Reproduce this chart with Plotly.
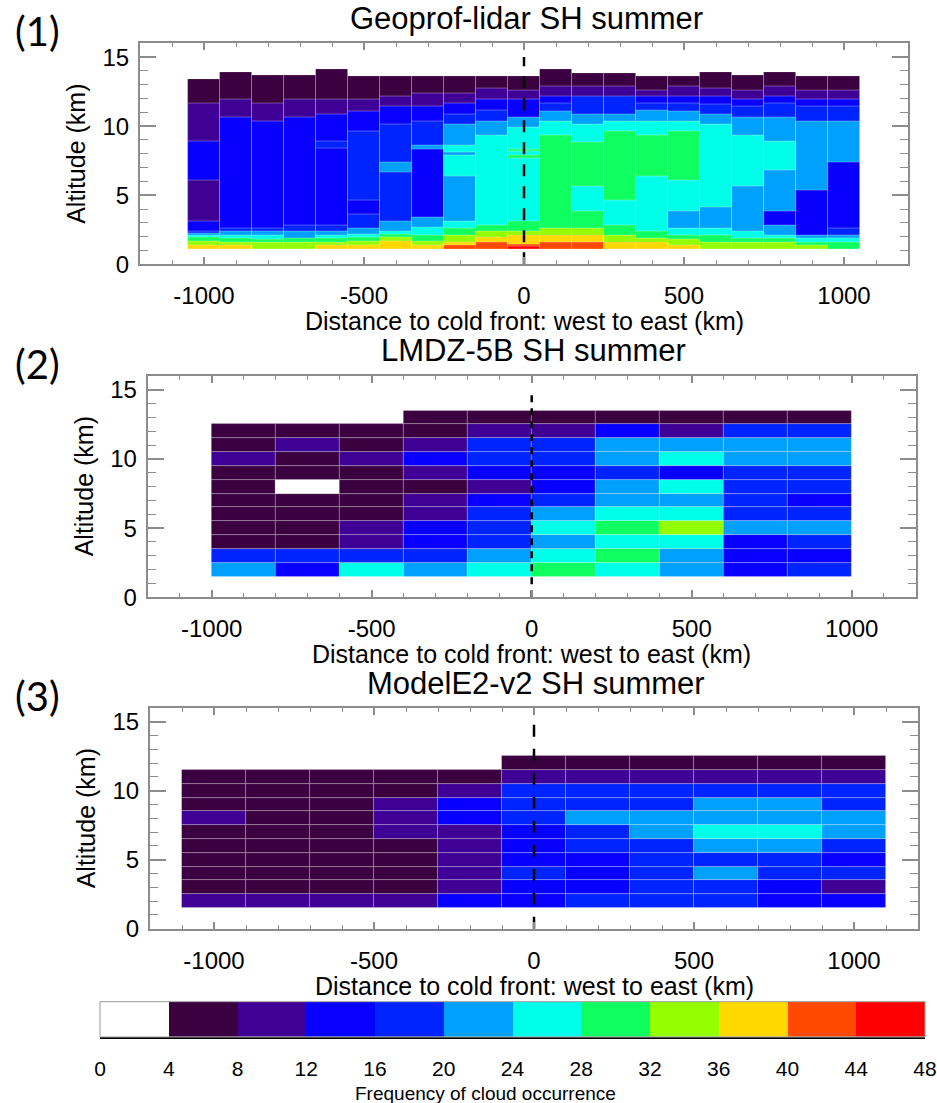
import plotly.graph_objects as go

W, H = 937, 1103

# ---------------- colour classes (frequency of cloud occurrence, %) ----------------
FREQ_EDGES = list(range(0, 49, 4))
BIN_COLORS = ["#ffffff", "#3b0040", "#3f0096", "#0800ff", "#0024ff", "#00a0ff",
              "#00ffe8", "#10ff60", "#94ff00", "#ffd800", "#ff4800", "#ff0000"]
CBAR_MID = [2, 6, 10, 14, 18, 22, 26, 30, 34, 38, 42, 46]

# ---------------- panel 1: Geoprof-lidar (100 km columns, variable layers) ----------
P1_X = list(range(-1000, 1001, 100))
P1_BOTTOM = 1.12
P1_TOPS = [
    [1.40, 1.69, 1.93, 2.12, 2.24, 2.41, 3.09, 6.11, 8.89, 11.66, 13.43],
    [1.35, 1.59, 1.88, 2.12, 2.41, 2.61, 10.63, 11.91, 13.91],
    [1.59, 1.83, 2.12, 2.41, 2.61, 10.38, 11.66, 13.67],
    [1.59, 1.88, 2.41, 2.85, 10.63, 11.91, 13.67],
    [1.35, 1.59, 1.88, 2.12, 2.41, 2.85, 8.40, 8.93, 10.87, 11.91, 14.15],
    [1.40, 1.64, 1.93, 2.17, 2.61, 3.62, 4.61, 9.61, 11.11, 11.91, 13.60],
    [1.64, 1.93, 2.17, 2.41, 3.14, 6.64, 7.39, 10.14, 11.42, 12.15, 13.60],
    [1.35, 1.64, 2.07, 2.65, 3.38, 8.35, 8.64, 10.38, 11.42, 12.39, 13.60],
    [1.35, 1.59, 2.12, 2.61, 3.14, 6.35, 7.92, 8.11, 8.64, 10.14, 10.87, 11.66, 12.39, 13.60],
    [1.59, 1.93, 2.41, 2.85, 9.37, 10.38, 11.18, 11.91, 12.75, 13.60],
    [1.28, 1.45, 2.12, 2.41, 3.09, 7.68, 7.92, 8.16, 8.35, 9.90, 10.63, 11.91, 12.63, 13.60],
    [1.59, 2.12, 2.61, 9.37, 10.38, 11.11, 11.66, 12.15, 12.87, 14.15],
    [1.59, 2.12, 2.61, 3.81, 5.63, 8.84, 10.14, 10.87, 12.15, 12.87, 13.84],
    [1.59, 2.12, 2.85, 4.66, 9.61, 10.38, 10.87, 12.15, 12.87, 13.84],
    [1.59, 1.88, 2.36, 6.35, 9.37, 10.38, 11.18, 11.66, 12.15, 12.63, 13.60],
    [1.40, 1.83, 2.12, 2.61, 3.81, 6.11, 9.61, 10.38, 11.11, 11.66, 12.15, 12.87, 13.60],
    [1.59, 2.12, 2.61, 4.10, 10.14, 10.87, 11.59, 12.15, 12.75, 13.91],
    [1.59, 1.88, 2.36, 5.63, 9.37, 10.63, 11.42, 11.91, 12.63, 13.67],
    [1.59, 1.88, 2.12, 2.85, 3.86, 6.83, 8.89, 10.63, 11.66, 12.15, 12.87, 13.91],
    [1.35, 1.59, 1.88, 2.12, 5.38, 10.38, 11.42, 11.91, 12.63, 13.60],
    [1.59, 1.88, 2.12, 2.61, 7.39, 10.38, 11.42, 11.91, 12.63, 13.60],
]
P1_FREQ = [
    [38, 34, 30, 26, 22, 18, 14, 10, 14, 10, 6],
    [38, 34, 30, 26, 22, 18, 14, 10, 6],
    [34, 30, 26, 22, 18, 14, 10, 6],
    [34, 30, 22, 18, 14, 10, 6],
    [38, 34, 30, 26, 22, 18, 14, 18, 14, 10, 6],
    [38, 34, 30, 26, 22, 18, 14, 18, 14, 10, 6],
    [38, 34, 30, 26, 22, 18, 22, 18, 14, 10, 6],
    [38, 34, 30, 26, 22, 14, 22, 18, 14, 10, 6],
    [42, 38, 34, 30, 26, 22, 26, 22, 26, 22, 18, 14, 10, 6],
    [42, 38, 34, 30, 26, 22, 18, 14, 10, 6],
    [46, 42, 38, 34, 30, 26, 30, 26, 30, 26, 22, 14, 10, 6],
    [42, 38, 34, 30, 26, 22, 18, 14, 10, 6],
    [42, 38, 34, 30, 26, 30, 26, 22, 18, 10, 6],
    [38, 34, 30, 26, 30, 26, 22, 18, 10, 6],
    [38, 34, 30, 26, 30, 26, 22, 18, 14, 10, 6],
    [38, 34, 30, 26, 22, 26, 30, 26, 22, 18, 14, 10, 6],
    [34, 30, 26, 22, 26, 22, 18, 14, 10, 6],
    [34, 30, 26, 22, 26, 22, 18, 14, 10, 6],
    [34, 30, 26, 22, 14, 22, 26, 22, 18, 14, 10, 6],
    [34, 30, 26, 22, 14, 22, 18, 14, 10, 6],
    [30, 26, 22, 18, 14, 22, 18, 14, 10, 6],
]

# ---------------- panel 2: LMDZ-5B (200 km columns, 1 km levels) ------------------
P2_X = list(range(-900, 901, 200))
P2_ALT = list(range(2, 14))
P2_FREQ = [  # one row per altitude level (2 km ... 13 km), columns west -> east
    [22, 14, 26, 22, 26, 30, 26, 22, 14, 18],
    [18, 18, 18, 18, 22, 26, 30, 22, 14, 14],
    [6, 6, 10, 14, 18, 22, 26, 26, 14, 18],
    [6, 6, 10, 14, 18, 26, 30, 34, 22, 22],
    [6, 6, 6, 10, 18, 22, 26, 26, 18, 18],
    [6, 6, 6, 10, 14, 18, 22, 22, 18, 14],
    [6, 2, 6, 6, 10, 14, 22, 26, 18, 18],
    [6, 6, 6, 10, 14, 14, 18, 14, 18, 18],
    [10, 6, 10, 14, 18, 18, 22, 26, 22, 22],
    [6, 10, 6, 10, 18, 18, 22, 22, 22, 22],
    [6, 6, 6, 6, 10, 10, 14, 10, 18, 18],
    [None, None, None, 6, 6, 6, 6, 6, 6, 6],
]

# ---------------- panel 3: ModelE2-v2 (200 km columns, 1 km levels) ---------------
P3_X = list(range(-1000, 1001, 200))
P3_ALT = list(range(2, 13))
P3_FREQ = [  # one row per altitude level (2 km ... 12 km)
    [10, 10, 10, 10, 14, 14, 18, 18, 18, 14, 14],
    [6, 6, 6, 6, 10, 14, 14, 18, 18, 14, 10],
    [6, 6, 6, 6, 10, 18, 14, 18, 22, 18, 18],
    [6, 6, 6, 6, 10, 14, 14, 18, 18, 18, 14],
    [6, 6, 6, 6, 10, 14, 18, 18, 22, 22, 18],
    [6, 6, 6, 10, 10, 14, 18, 22, 26, 26, 22],
    [10, 6, 6, 10, 14, 18, 22, 22, 22, 22, 22],
    [6, 6, 6, 10, 14, 18, 18, 18, 22, 22, 18],
    [6, 6, 6, 6, 10, 18, 18, 18, 18, 18, 18],
    [6, 6, 6, 6, 6, 10, 10, 10, 10, 10, 10],
    [None, None, None, None, None, 6, 6, 6, 6, 6, 6],
]

X_TICKS = [-1000, -500, 0, 500, 1000]
X_TICKTEXT = ["-1000", "-500", "0", "500", "1000"]
Y_TICKS = [0, 5, 10, 15]
TITLES = ["Geoprof-lidar SH summer", "LMDZ-5B SH summer", "ModelE2-v2 SH summer"]
PANEL_TAGS = ["(1)", "(2)", "(3)"]
XTITLE = "Distance to cold front: west to east (km)"
YTITLE = "Altitude (km)"
CBAR_TITLE = "Frequency of cloud occurrence"
FRONT_X = 0

# ---------------- helpers ----------------
CS = []
for i, c in enumerate(BIN_COLORS):
    CS.append([i / 12, c])
    CS.append([(i + 1) / 12, c])

FONT = "Liberation Sans, Arial, Helvetica, sans-serif"
EDGE = dict(color="rgba(255,255,255,0.28)", width=0.8)
DASHES = ["12px,10px", "7px,6px", "12px,12px"]


def marker(vals):
    return dict(color=vals, colorscale=CS, cmin=0, cmax=48, showscale=False, line=EDGE)


fig = go.Figure()

# panel 1
xs, bases, hs, vals = [], [], [], []
for x, tops, fr in zip(P1_X, P1_TOPS, P1_FREQ):
    b = P1_BOTTOM
    for t, f in zip(tops, fr):
        xs.append(x); bases.append(b); hs.append(t - b); vals.append(f)
        b = t
fig.add_trace(go.Bar(x=xs, y=hs, base=bases, width=100, marker=marker(vals),
                     xaxis="x", yaxis="y", hoverinfo="skip"))


def grid_bars(xcols, alts, grid, ax, ay):
    xs, bases, hs, vals = [], [], [], []
    for a, row in zip(alts, grid):
        for x, f in zip(xcols, row):
            if f is None:
                continue
            xs.append(x); bases.append(a - 0.5); hs.append(1.0); vals.append(f)
    fig.add_trace(go.Bar(x=xs, y=hs, base=bases, width=200, marker=marker(vals),
                         xaxis=ax, yaxis=ay, hoverinfo="skip"))


grid_bars(P2_X, P2_ALT, P2_FREQ, "x2", "y2")
grid_bars(P3_X, P3_ALT, P3_FREQ, "x3", "y3")

# cold-front dashed lines
for (ax, ay), dash in zip([("x", "y"), ("x2", "y2"), ("x3", "y3")], DASHES):
    fig.add_trace(go.Scatter(x=[FRONT_X, FRONT_X], y=[0, 15], mode="lines",
                             line=dict(color="black", width=2.5, dash=dash),
                             xaxis=ax, yaxis=ay, hoverinfo="skip"))

# colour bar as a heatmap on its own axis
fig.add_trace(go.Heatmap(x=FREQ_EDGES, y=[0, 1], z=[CBAR_MID], colorscale=CS,
                         zmin=0, zmax=48, showscale=False, xaxis="x4", yaxis="y4",
                         hoverinfo="skip"))

# ---------------- layout ----------------
PANELS = [  # pixel boxes: left, right, top, bottom
    (140.0, 908.0, 43.3, 264.3),
    (147.7, 915.7, 376.0, 597.3),
    (150.0, 918.0, 708.0, 928.7),
]
CBAR_BOX = (100.0, 925.0, 1001.7, 1037.0)

AX_COLOR = "#8c8c8c"


def xdom(l, r):
    return [l / W, r / W]


def ydom(t, b):
    return [1 - b / H, 1 - t / H]


layout = dict(
    width=W, height=H, margin=dict(l=0, r=0, t=0, b=0, pad=0, autoexpand=False),
    paper_bgcolor="white", plot_bgcolor="white",
    showlegend=False, barmode="overlay", bargap=0,
    font=dict(family=FONT, color="black"),
)
annotations = []
suffix = ["", "2", "3"]
for i, (l, r, t, b) in enumerate(PANELS):
    s = suffix[i]
    layout["xaxis" + s] = dict(
        domain=xdom(l, r), anchor="y" + s, range=[-1200, 1200],
        tickvals=X_TICKS, ticktext=X_TICKTEXT, ticks="inside", ticklen=7,
        tickwidth=1.5, tickcolor=AX_COLOR,
        minor=dict(dtick=100, tick0=0, ticks="inside", ticklen=4, tickcolor=AX_COLOR, tickwidth=1.2),
        showline=True, linecolor=AX_COLOR, linewidth=2, mirror="ticks",
        showgrid=False, zeroline=False, tickfont=dict(size=24, family=FONT),
        ticklabelstandoff=9, fixedrange=True, automargin=False,
    )
    layout["yaxis" + s] = dict(
        domain=ydom(t, b), anchor="x" + s, range=[0, 16],
        tickvals=Y_TICKS, ticks="inside", ticklen=16, tickwidth=1.5,
        tickcolor=AX_COLOR,
        minor=dict(dtick=1, tick0=0, ticks="inside", ticklen=8, tickcolor=AX_COLOR, tickwidth=1.2),
        showline=True, linecolor=AX_COLOR, linewidth=2, mirror="ticks",
        showgrid=False, zeroline=False, tickfont=dict(size=24, family=FONT),
        ticklabelstandoff=4, fixedrange=True, automargin=False,
    )
    cx = (l + r) / 2
    annotations.append(dict(text=TITLES[i], x=(cx + 2) / W, y=1 - (t - 25) / H,
                            xref="paper", yref="paper", showarrow=False,
                            xanchor="center", yanchor="middle",
                            font=dict(size=31, family=FONT)))
    annotations.append(dict(text=XTITLE, x=cx / W, y=1 - (b + 57) / H,
                            xref="paper", yref="paper", showarrow=False,
                            xanchor="center", yanchor="middle",
                            font=dict(size=25, family=FONT)))
    annotations.append(dict(text=YTITLE, x=(l - 64) / W, y=1 - ((t + b) / 2) / H,
                            xref="paper", yref="paper", showarrow=False, textangle=-90,
                            xanchor="center", yanchor="middle",
                            font=dict(size=25, family=FONT)))
    annotations.append(dict(text=PANEL_TAGS[i], x=37 / W, y=1 - (t - 12) / H,
                            xref="paper", yref="paper", showarrow=False,
                            xanchor="center", yanchor="middle",
                            font=dict(size=40, family="Lato, Carlito, Open Sans, sans-serif")))

cl, cr, ct, cb = CBAR_BOX
layout["xaxis4"] = dict(domain=xdom(cl, cr), anchor="y4", range=[0, 48],
                        tickvals=FREQ_EDGES, ticks="", showline=True, linecolor="black",
                        linewidth=2, showgrid=False, zeroline=False, fixedrange=True,
                        tickfont=dict(size=21, family=FONT), ticklabelstandoff=12,
                        ticklabeloverflow="allow", automargin=False)
layout["yaxis4"] = dict(domain=ydom(ct, cb), anchor="x4", range=[0, 1],
                        showticklabels=False, ticks="", showgrid=False,
                        zeroline=False, showline=False, fixedrange=True, automargin=False)
annotations.append(dict(text=CBAR_TITLE, x=486 / W, y=1 - 1093 / H, xref="paper",
                        yref="paper", showarrow=False, xanchor="center", yanchor="middle",
                        font=dict(size=19, family=FONT)))
layout["annotations"] = annotations
layout["shapes"] = [dict(type="rect", xref="paper", yref="paper",
                         x0=cl / W, x1=cr / W, y0=1 - cb / H, y1=1 - ct / H,
                         line=dict(color="#9a9a9a", width=1))]

fig.update_layout(**layout)
fig.write_html(
    "out.html",
    config={"displayModeBar": False, "responsive": False},
    post_script="document.documentElement.style.margin='0';document.body.style.margin='0';"
                "document.documentElement.style.overflow='hidden';document.body.style.overflow='hidden';",
)
